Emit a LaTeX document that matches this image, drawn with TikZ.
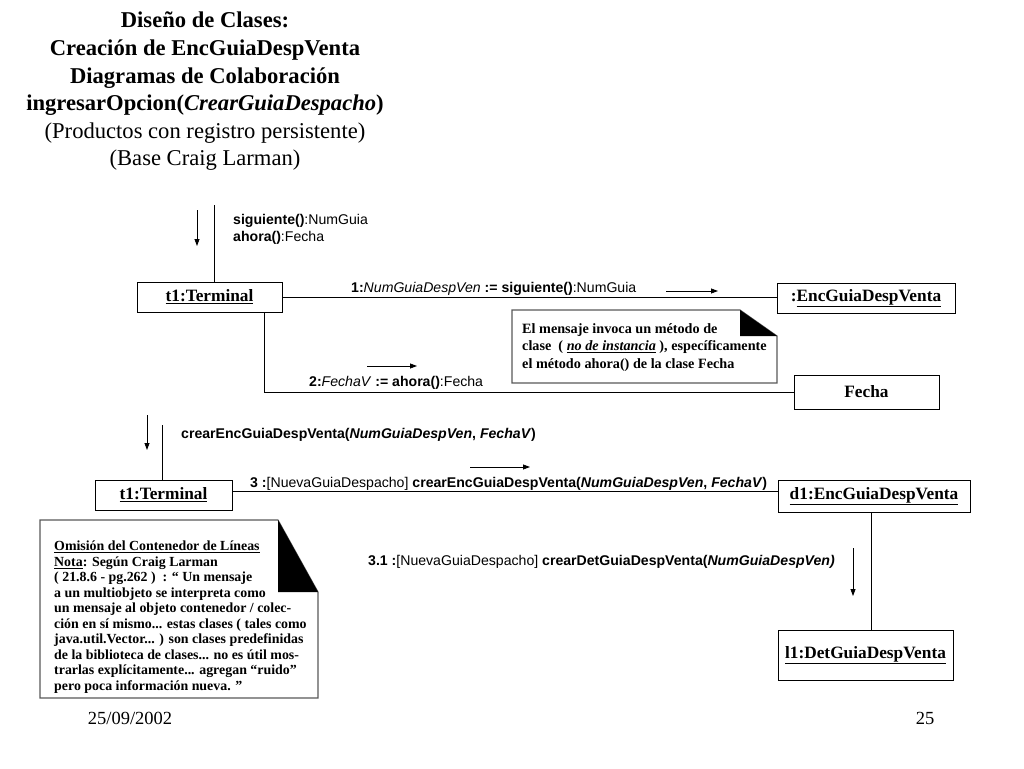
\documentclass[tikz,border=0pt]{standalone}
\usepackage{fontspec}
\setmainfont{Liberation Serif}
\newfontfamily\arial{Liberation Sans}
\usetikzlibrary{arrows.meta}
\begin{document}
\begin{tikzpicture}[x=1pt,y=-1pt,
  obj/.style={draw, line width=0.8pt, minimum height=30pt, font=\fontsize{17.3}{20}\selectfont\bfseries, inner sep=0pt},
  msg/.style={anchor=base west, inner sep=0pt, font=\arial\fontsize{14.1}{16}\selectfont},
  arr/.style={-{Triangle[length=7pt,width=5pt]}, line width=0.8pt},
  lnk/.style={line width=0.8pt},
  notebd/.style={draw=black!65, line width=1.1pt, fill=white},
  notetxt/.style={anchor=north west, align=left, inner sep=0pt},
  plain/.style={inner sep=0pt},
]
\useasboundingbox (0,0) rectangle (1024,768);

% title
\node[plain, anchor=north, align=center, font=\fontsize{22.6}{27.6}\selectfont] (title) at (205,12)
 {\textbf{Diseño de Clases:}\\
  \textbf{Creación de EncGuiaDespVenta}\\
  \textbf{Diagramas de Colaboración}\\
  \textbf{ingresarOpcion(\textit{CrearGuiaDespacho})}\\
  (Productos con registro persistente)\\
  (Base Craig Larman)};

% objects
\node[obj, minimum width=145pt] (t1) at (209.5,297) {\underline{t1:Terminal}};
\node[obj, minimum width=178pt] (enc) at (866,298) {:\underline{EncGuiaDespVenta}};
\node[obj, minimum width=145pt, minimum height=34pt] (fecha) at (866.5,392) {Fecha};
\node[obj, minimum width=137pt] (t1b) at (163.5,495) {\underline{t1:Terminal}};
\node[obj, minimum width=192pt, minimum height=32pt] (d1) at (874,496) {\underline{d1:EncGuiaDespVenta}};
\node[obj, minimum width=175pt, minimum height=50pt] (l1) at (865.5,655) {\underline{l1:DetGuiaDespVenta}};

% links
\coordinate (top1) at (214,205);
\draw[lnk] (top1) -- (top1 |- t1.north);
\draw[lnk] (t1.east) -- (t1.east -| enc.west);
\draw[lnk] ([xshift=-18pt]t1.south east) |- (fecha.west);
\coordinate (top2) at (162,425);
\draw[lnk] (top2) -- (top2 |- t1b.north);
\draw[lnk] ([yshift=4pt]t1b.east) -- ([yshift=4pt]t1b.east -| d1.west);
\coordinate (dl) at (871,0);
\draw[lnk] (dl |- d1.south) -- (dl |- l1.north);

% message arrows
\coordinate (a1s) at (197,210); \coordinate (a1e) at (197,246);
\draw[arr] (a1s) -- (a1e);
\coordinate (a2s) at (666,291); \coordinate (a2e) at (718,291);
\draw[arr] (a2s) -- (a2e);
\coordinate (a3s) at (367,366); \coordinate (a3e) at (417,366);
\draw[arr] (a3s) -- (a3e);
\coordinate (a4s) at (147,415); \coordinate (a4e) at (147,450);
\draw[arr] (a4s) -- (a4e);
\coordinate (a5s) at (470,467); \coordinate (a5e) at (530,467);
\draw[arr] (a5s) -- (a5e);
\coordinate (a6s) at (853,548); \coordinate (a6e) at (853,596);
\draw[arr] (a6s) -- (a6e);

% message labels
\node[msg] (m0a) at (233,224) {\textbf{siguiente()}:NumGuia};
\node[msg] (m0b) at (233,241) {\textbf{ahora()}:Fecha};
\node[msg] (m1) at (351,292) {\textbf{1:}\textit{NumGuiaDespVen} \textbf{:= siguiente()}:NumGuia};
\node[msg] (m2) at (309,386) {\textbf{2:}\textit{FechaV} \textbf{:= ahora()}:Fecha};
\node[msg] (m3a) at (181,438) {\textbf{crearEncGuiaDespVenta(\textit{NumGuiaDespVen}, \textit{FechaV})}};
\node[msg] (m3) at (250,487) {\textbf{3 :}[NuevaGuiaDespacho] \textbf{crearEncGuiaDespVenta(\textit{NumGuiaDespVen}, \textit{FechaV})}};
\node[msg] (m31) at (368,565) {\textbf{3.1 :}[NuevaGuiaDespacho] \textbf{crearDetGuiaDespVenta(\textit{NumGuiaDespVen)}}};

% note 1
\draw[notebd] (512,310) -- (740,310) -- (777,336) -- (777,383) -- (512,383) -- cycle;
\fill (740,310) -- (777,336) -- (740,336) -- cycle;
\node[notetxt, font=\fontsize{14.2}{17.6}\selectfont\bfseries] (n1) at (522,323)
 {El mensaje invoca un método de\\
  clase~ ( \underline{\textit{no de instancia}} ), específicamente\\
  el método ahora() de la clase Fecha};

% note 2
\draw[notebd] (40,520) -- (278,520) -- (318,592) -- (318,698) -- (40,698) -- cycle;
\fill (278,520) -- (318,592) -- (278,592) -- cycle;
\node[notetxt, font=\fontsize{13.9}{15.5}\selectfont\bfseries] (n2) at (54,541)
 {\underline{Omisión del Contenedor de Líneas}\\
  \underline{Nota}: Según Craig Larman\\
  ( 21.8.6 - pg.262 )~ : “ Un mensaje\\
  a un multiobjeto se interpreta como\\
  un mensaje al objeto contenedor / colec-\\
  ción en sí mismo... estas clases ( tales como\\
  java.util.Vector... ) son clases predefinidas\\
  de la biblioteca de clases... no es útil mos-\\
  trarlas explícitamente... agregan “ruido”\\
  pero poca información nueva. ”};

% footer
\node[plain, font=\fontsize{18.5}{21}\selectfont] (date) at (130,718) {25/09/2002};
\node[plain, font=\fontsize{18.5}{21}\selectfont] (page) at (925,718) {25};
\end{tikzpicture}
\end{document}
